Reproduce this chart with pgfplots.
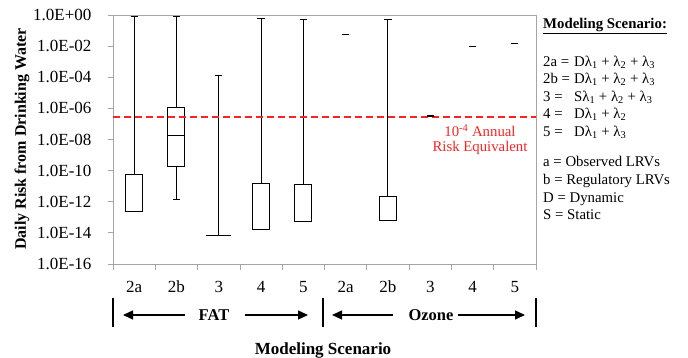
\documentclass[border=0pt]{standalone}
\usepackage{fontspec}
\setmainfont{Liberation Serif}
\usepackage{pgfplots}
\pgfplotsset{compat=1.18}
\usetikzlibrary{arrows.meta}
\definecolor{axgray}{RGB}{165,165,165}
\definecolor{riskred}{RGB}{250,35,35}
\newcommand\lam[1]{λ\textsubscript{#1}}
\newcommand\fs{\fontsize{14.8}{14.8}\selectfont}
\pgfplotsset{boxline/.style={black, line width=1pt, mark=none, unbounded coords=jump}}
\begin{document}
\begin{tikzpicture}
\useasboundingbox (-113pt,-94pt) rectangle (575pt,264pt);
\begin{axis}[
  at={(0pt,0pt)}, anchor=south west,
  scale only axis, width=423pt, height=249pt,
  ymode=log, ymin=1e-16, ymax=1,
  xmin=-0.5, xmax=9.5,
  xtick={0,...,9},
  xticklabels={2a,2b,3,4,5,2a,2b,3,4,5},
  minor xtick={-0.5,0.5,...,9.5},
  ytick={1e-16,1e-14,1e-12,1e-10,1e-8,1e-6,1e-4,1e-2,1},
  yticklabels={1.0E-16,1.0E-14,1.0E-12,1.0E-10,1.0E-08,1.0E-06,1.0E-04,1.0E-02,1.0E+00},
  yminorticks=false,
  tick pos=left, tick align=outside,
  major tick length=5pt, minor tick length=6pt,
  tick style={axgray, line width=0.8pt},
  major x tick style={draw=none},
  axis line style={axgray, line width=0.8pt},
  ticklabel style={font=\fontsize{17}{17}\selectfont},
  xticklabel style={yshift=-8.5pt},
  yticklabel style={xshift=-13pt},
  /pgf/number format/assume math mode=true,
  clip=false,
]
% FAT 2a
\addplot[boxline] coordinates {(-0.2,2.2e-13) (0.2,2.2e-13) (0.2,5.8e-11) (-0.2,5.8e-11) (-0.2,2.2e-13)};
\addplot[boxline] coordinates {(0,5.8e-11) (0,0.78) (nan,nan) (-0.085,0.78) (0.085,0.78)};
% FAT 2b
\addplot[boxline] coordinates {(0.8,1.8e-10) (1.2,1.8e-10) (1.2,1.1e-6) (0.8,1.1e-6) (0.8,1.8e-10)};
\addplot[boxline] coordinates {(0.8,1.75e-8) (1.2,1.75e-8)};
\addplot[boxline] coordinates {(1,1.1e-6) (1,0.78) (nan,nan) (0.915,0.78) (1.085,0.78)};
\addplot[boxline] coordinates {(1,1.8e-10) (1,1.4e-12) (nan,nan) (0.915,1.4e-12) (1.085,1.4e-12)};
% FAT 3
\addplot[boxline] coordinates {(2,6.6e-15) (2,1.26e-4) (nan,nan) (1.915,1.26e-4) (2.085,1.26e-4)};
\addplot[boxline] coordinates {(1.7,6.6e-15) (2.3,6.6e-15)};
% FAT 4
\addplot[boxline] coordinates {(2.8,1.6e-14) (3.2,1.6e-14) (3.2,1.6e-11) (2.8,1.6e-11) (2.8,1.6e-14)};
\addplot[boxline] coordinates {(3,1.6e-11) (3,0.61) (nan,nan) (2.915,0.61) (3.085,0.61)};
% FAT 5
\addplot[boxline] coordinates {(3.8,5e-14) (4.2,5e-14) (4.2,1.2e-11) (3.8,1.2e-11) (3.8,5e-14)};
\addplot[boxline] coordinates {(4,1.2e-11) (4,0.48) (nan,nan) (3.915,0.48) (4.085,0.48)};
% Ozone 2b
\addplot[boxline] coordinates {(5.8,5.8e-14) (6.2,5.8e-14) (6.2,2.1e-12) (5.8,2.1e-12) (5.8,5.8e-14)};
\addplot[boxline] coordinates {(6,2.1e-12) (6,0.48) (nan,nan) (5.915,0.48) (6.085,0.48)};
% Ozone single values
\addplot[black, only marks, mark=-, mark size=3.5pt, mark options={line width=1.2pt}] coordinates {(5,0.057) (7,3.2e-7) (8,0.010) (9,0.015)};
% risk line
\addplot[riskred, line width=1.3pt, dash pattern=on 7pt off 4pt] coordinates {(-0.5,2.74e-7) (9.5,2.74e-7)};
\end{axis}
% axis titles
\node[rotate=90, font=\bfseries\fontsize{16}{16}\selectfont] at (-91pt,125pt) {Daily Risk from Drinking Water};
\node[font=\bfseries\fontsize{17}{17}\selectfont] at (210pt,-86pt) {Modeling Scenario};
% group brackets
\draw[black, line width=1.3pt] (0pt,-34pt) -- (0pt,-63pt);
\draw[black, line width=1.3pt] (210pt,-34pt) -- (210pt,-63pt);
\draw[black, line width=1.3pt] (423pt,-34pt) -- (423pt,-63pt);
\draw[black, line width=1.3pt, -{Triangle[length=10pt,width=9pt]}] (72pt,-51pt) -- (10pt,-51pt);
\draw[black, line width=1.3pt, -{Triangle[length=10pt,width=9pt]}] (132pt,-51pt) -- (195pt,-51pt);
\node[font=\bfseries\fontsize{16.5}{16.5}\selectfont] at (101pt,-51pt) {FAT};
\draw[black, line width=1.3pt, -{Triangle[length=10pt,width=9pt]}] (280pt,-51pt) -- (219pt,-51pt);
\draw[black, line width=1.3pt, -{Triangle[length=10pt,width=9pt]}] (345pt,-51pt) -- (412pt,-51pt);
\node[font=\bfseries\fontsize{16.5}{16.5}\selectfont] at (318pt,-51pt) {Ozone};
% red annotation
\node[riskred, font=\fs] at (367pt,133pt) {10\textsuperscript{-4} Annual};
\node[riskred, font=\fs] at (367pt,116pt) {Risk Equivalent};
% legend text
\node[anchor=base west, inner sep=0pt, font=\bfseries\fs] at (430pt,235.5pt) {\underline{Modeling Scenario:}};
\node[anchor=base west, inner sep=0pt, font=\fs] at (430pt,197.8pt) {2a =};
\node[anchor=base west, inner sep=0pt, font=\fs] at (461pt,197.8pt) {D\lam1 + \lam2 + \lam3};
\node[anchor=base west, inner sep=0pt, font=\fs] at (430pt,180.5pt) {2b =};
\node[anchor=base west, inner sep=0pt, font=\fs] at (461pt,180.5pt) {D\lam1 + \lam2 + \lam3};
\node[anchor=base west, inner sep=0pt, font=\fs] at (430pt,162.8pt) {3 =};
\node[anchor=base west, inner sep=0pt, font=\fs] at (461pt,162.8pt) {S\lam1 + \lam2 + \lam3};
\node[anchor=base west, inner sep=0pt, font=\fs] at (430pt,145.2pt) {4 =};
\node[anchor=base west, inner sep=0pt, font=\fs] at (461pt,145.2pt) {D\lam1 + \lam2};
\node[anchor=base west, inner sep=0pt, font=\fs] at (430pt,127.2pt) {5 =};
\node[anchor=base west, inner sep=0pt, font=\fs] at (461pt,127.2pt) {D\lam1 + \lam3};
\node[anchor=base west, inner sep=0pt, font=\fs] at (430pt,97.8pt) {a = Observed LRVs};
\node[anchor=base west, inner sep=0pt, font=\fs] at (430pt,79.5pt) {b = Regulatory LRVs};
\node[anchor=base west, inner sep=0pt, font=\fs] at (430pt,61.8pt) {D = Dynamic};
\node[anchor=base west, inner sep=0pt, font=\fs] at (430pt,44.5pt) {S = Static};
\end{tikzpicture}
\end{document}
